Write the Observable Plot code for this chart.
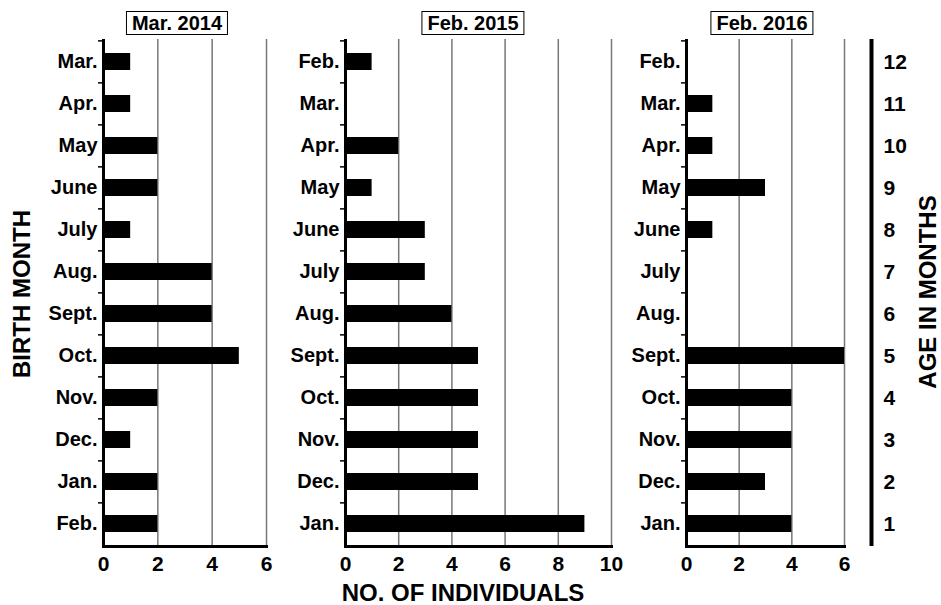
<!DOCTYPE html>
<html><head><meta charset="utf-8">
<script src="https://cdn.jsdelivr.net/npm/d3@7"></script>
<script src="https://cdn.jsdelivr.net/npm/@observablehq/plot@0.6"></script>
<style>
body{margin:0;background:#fff;font-family:"Liberation Sans",Arial,sans-serif;}
#wrap{position:relative;width:941px;height:605px;background:#fff;}
#wrap svg{position:absolute;left:0;top:0;}
.box{position:absolute;border:1px solid #000;font-weight:bold;font-size:20px;padding:0 5px;line-height:22px;background:#fff;transform:translateX(-50%);white-space:nowrap;color:#000;}
.lab{position:absolute;font-weight:bold;font-size:24px;white-space:nowrap;color:#000;transform:translate(-50%,-50%);}
.rot{transform:translate(-50%,-50%) rotate(-90deg);}
</style></head>
<body><div id="wrap"></div>
<script>
// ---- data ----
const months2014 = ["Mar.","Apr.","May","June","July","Aug.","Sept.","Oct.","Nov.","Dec.","Jan.","Feb."];
const counts2014 = [1,1,2,2,1,4,4,5,2,1,2,2];
const months2015 = ["Feb.","Mar.","Apr.","May","June","July","Aug.","Sept.","Oct.","Nov.","Dec.","Jan."];
const counts2015 = [1,0,2,1,3,3,4,5,5,5,5,9];
const months2016 = ["Feb.","Mar.","Apr.","May","June","July","Aug.","Sept.","Oct.","Nov.","Dec.","Jan."];
const counts2016 = [0,1,1,3,1,0,0,6,4,4,3,4];
const ageMonths = [12,11,10,9,8,7,6,5,4,3,2,1];
const panelTitles = ["Mar. 2014","Feb. 2015","Feb. 2016"];
const xTicks2014 = [0,2,4,6];
const xTicks2015 = [0,2,4,6,8,10];
const xTicks2016 = [0,2,4,6];
const xMax = [6,10,6];

// ---- layout ----
const W = 941, H = 605, TOP = 39, BOTTOM = 546;
const step = (BOTTOM - TOP) / 12;
const FONT = '"Liberation Sans", Arial, sans-serif';
const wrap = document.getElementById("wrap");

function panel(months, counts, maxX, ticks, left, right) {
  const data = months.map((m, i) => ({month: m, n: counts[i]}));
  return Plot.plot({
    width: W, height: H,
    marginLeft: left, marginRight: W - right, marginTop: TOP, marginBottom: H - BOTTOM,
    style: {background: "transparent", overflow: "visible", fontFamily: FONT, fontWeight: "bold", color: "#000"},
    x: {domain: [0, maxX]},
    y: {domain: months, paddingInner: 0.6, paddingOuter: 0.3},
    marks: [
      Plot.gridX(ticks.filter(t => t > 0), {stroke: "#777", strokeOpacity: 1, strokeWidth: 1.5}),
      Plot.barX(data, {x: "n", y: "month", fill: "#000"}),
      Plot.axisY({tickSize: 0, tickPadding: 6, fontSize: 20, fontWeight: "bold", label: null}),
      Plot.axisY({text: null, tickSize: 5, dy: -step / 2, strokeWidth: 1.5, label: null}),
      Plot.axisX({ticks, tickFormat: d3.format("d"), tickSize: 0, tickPadding: 10, fontSize: 21, fontWeight: "bold", label: null}),
      Plot.ruleX([0], {strokeWidth: 3}),
      Plot.frame({anchor: "bottom", strokeWidth: 3})
    ]
  });
}

wrap.appendChild(panel(months2014, counts2014, xMax[0], xTicks2014, 103, 266));
wrap.appendChild(panel(months2015, counts2015, xMax[1], xTicks2015, 345, 611));
wrap.appendChild(panel(months2016, counts2016, xMax[2], xTicks2016, 686, 844));

wrap.appendChild(Plot.plot({
  width: W, height: H,
  marginLeft: 871, marginRight: W - 873, marginTop: TOP, marginBottom: H - BOTTOM,
  style: {background: "transparent", overflow: "visible", fontFamily: FONT, fontWeight: "bold", color: "#000"},
  x: {domain: [0, 1], axis: null},
  y: {type: "band", domain: ageMonths, paddingInner: 0.6, paddingOuter: 0.3},
  marks: [
    Plot.ruleX([0], {strokeWidth: 4}),
    Plot.axisY({anchor: "right", tickSize: 0, tickPadding: 10, fontSize: 21, fontWeight: "bold", label: null})
  ]
}));

// titles & axis labels
const titleCenters = [177, 473, 762];
panelTitles.forEach((t, i) => {
  const d = document.createElement("div");
  d.className = "box";
  d.textContent = t;
  d.style.left = titleCenters[i] + "px";
  d.style.top = "11px";
  wrap.appendChild(d);
});
function label(text, x, y, rot) {
  const d = document.createElement("div");
  d.className = "lab" + (rot ? " rot" : "");
  d.textContent = text;
  d.style.left = x + "px";
  d.style.top = y + "px";
  wrap.appendChild(d);
}
label("BIRTH MONTH", 22, 294, true);
label("NO. OF INDIVIDUALS", 463, 593, false);
label("AGE IN MONTHS", 928, 292, true);
</script>
</body></html>
